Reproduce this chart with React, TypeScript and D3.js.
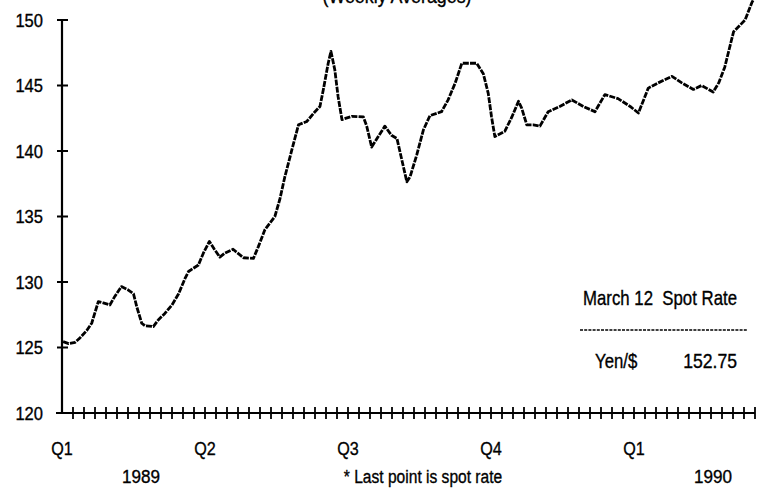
import React from "react";
import * as d3 from "d3";

// week offsets from the start of Q1 1989 (fractional where the trace turns between ticks)
const weeks = [
  0.1, 0.6, 1.2, 1.6, 2.25, 2.7, 3.3, 3.75, 4.35, 4.8, 5.4, 6.0, 6.5, 6.8, 7.25, 7.55,
  8.3, 8.75, 9.35, 10.0, 10.6, 11.2, 11.5, 12.4, 12.85, 13.4, 13.85, 14.35, 14.8, 15.55,
  16.5, 17.4, 17.85, 18.45, 19.35, 19.8, 20.25, 20.9, 21.5, 22.25, 23.0, 23.45, 23.75,
  24.2, 24.45, 24.8, 25.1, 25.45, 26.35, 27.4, 27.7, 28.15, 28.75, 29.35, 29.95, 30.45,
  30.9, 31.35, 31.65, 32.25, 32.85, 33.45, 34.5, 35.1, 35.75, 36.35, 37.1, 37.7, 38.3,
  38.75, 39.05, 39.35, 40.25, 40.9, 41.5, 41.8, 42.25, 42.85, 43.45, 44.2, 45.25, 46.35,
  47.4, 48.45, 49.35, 50.55, 51.65, 52.4, 53.3, 54.2, 55.45, 56.35, 57.4, 58.15, 59.2,
  59.7, 60.25, 61.05, 62.1, 62.7, 63.6,
];

const yenPerDollar = [
  125.45, 125.3, 125.4, 125.7, 126.3, 126.85, 128.5, 128.4, 128.25, 128.9, 129.65, 129.4,
  129.1, 128.1, 126.85, 126.65, 126.6, 127.1, 127.6, 128.25, 129.1, 130.3, 130.8, 131.3,
  132.2, 133.1, 132.5, 131.9, 132.2, 132.5, 131.85, 131.8, 132.7, 134.0, 135.0, 136.3,
  138.0, 140.1, 142.0, 142.25, 143.0, 143.4, 144.65, 146.7, 147.6, 146.2, 144.15, 142.4,
  142.65, 142.6, 141.9, 140.3, 141.1, 141.9, 141.2, 140.95, 139.3, 137.65, 138.05, 139.7,
  141.6, 142.7, 143.0, 143.9, 145.2, 146.7, 146.7, 146.7, 145.9, 144.4, 142.6, 141.1,
  141.5, 142.6, 143.8, 143.25, 142.0, 142.0, 141.9, 143.0, 143.4, 143.9, 143.4, 143.0,
  144.3, 144.0, 143.4, 142.9, 144.8, 145.2, 145.7, 145.2, 144.7, 145.0, 144.5, 145.2,
  146.4, 149.1, 150.0, 151.3, 152.75,
];

const yTicks = [120, 125, 130, 135, 140, 145, 150];
const quarterLabels = ["Q1", "Q2", "Q3", "Q4", "Q1"];
const quarterWeeks = [0, 13, 26, 39, 52];
const yearLabels = ["1989", "1990"];
const yearWeeks = [7, 59];
const weekTicks = d3.range(1, 64);

const font = "'Liberation Sans', Arial, Helvetica, sans-serif";

// condensed text: the original uses a narrow grotesque, so squeeze Liberation Sans horizontally
const NarrowText = ({ x, y, size = 19, anchor = "start", squeeze = 0.85, children }: any) => (
  <text
    transform={`translate(${x},${y}) scale(${squeeze},1)`}
    textAnchor={anchor}
    fontSize={size}
    stroke="#000"
    strokeWidth={0.35}
    style={{ whiteSpace: "pre" }}
  >
    {children}
  </text>
);

export default function App() {
  const width = 770;
  const height = 488;

  const x = d3.scaleLinear().domain([0, 63]).range([62, 755]);
  const y = d3.scaleLinear().domain([120, 150]).range([413, 20]);

  const points = weeks.map((w, i) => [w, yenPerDollar[i]] as [number, number]);
  const line = d3
    .line<[number, number]>()
    .x((d) => x(d[0]))
    .y((d) => y(d[1]));

  return (
    <svg
      width={width}
      height={height}
      style={{ position: "absolute", left: 0, top: 0, background: "#fff" }}
      fontFamily={font}
    >
      <NarrowText x={397} y={3} size={21} anchor="middle">
        (Weekly Averages)
      </NarrowText>

      {/* y axis */}
      <line x1={x(0)} x2={x(0)} y1={y(150)} y2={y(120)} stroke="#000" strokeWidth={2.2} />
      {yTicks.map((t) => (
        <g key={t}>
          <line x1={x(0) - 5} x2={x(0) + 6} y1={y(t)} y2={y(t)} stroke="#000" strokeWidth={2} />
          <NarrowText x={43} y={y(t) + 6.5} size={18} anchor="end" squeeze={0.92}>
            {t}
          </NarrowText>
        </g>
      ))}

      {/* x axis with weekly ticks */}
      <line x1={x(0) - 6} x2={x(63)} y1={y(120)} y2={y(120)} stroke="#000" strokeWidth={2} />
      {weekTicks.map((w) => (
        <line key={w} x1={x(w)} x2={x(w)} y1={y(120) - 6} y2={y(120) + 6} stroke="#000" strokeWidth={1.8} />
      ))}
      {quarterLabels.map((q, i) => (
        <NarrowText key={i} x={x(quarterWeeks[i])} y={455} size={19} anchor="middle">
          {q}
        </NarrowText>
      ))}
      {yearLabels.map((yr, i) => (
        <NarrowText key={yr} x={x(yearWeeks[i]) + 2} y={483} size={19} anchor="middle" squeeze={0.9}>
          {yr}
        </NarrowText>
      ))}
      <NarrowText x={423} y={483} size={19} anchor="middle" squeeze={0.82}>
        * Last point is spot rate
      </NarrowText>

      {/* series */}
      <path
        d={line(points) ?? ""}
        fill="none"
        stroke="#000"
        strokeWidth={2.8}
        strokeDasharray="6 1.2"
        strokeLinejoin="round"
      />

      {/* spot rate note */}
      <NarrowText x={660} y={305} size={20} anchor="middle" squeeze={0.84}>
        March 12  Spot Rate
      </NarrowText>
      <line x1={580} x2={748} y1={330} y2={330} stroke="#000" strokeWidth={1.6} strokeDasharray="3 1.2" />
      <NarrowText x={595} y={368} size={20} squeeze={0.84}>
        Yen/$
      </NarrowText>
      <NarrowText x={737} y={368} size={20} anchor="end" squeeze={0.88}>
        {yenPerDollar[yenPerDollar.length - 1].toFixed(2)}
      </NarrowText>
    </svg>
  );
}
